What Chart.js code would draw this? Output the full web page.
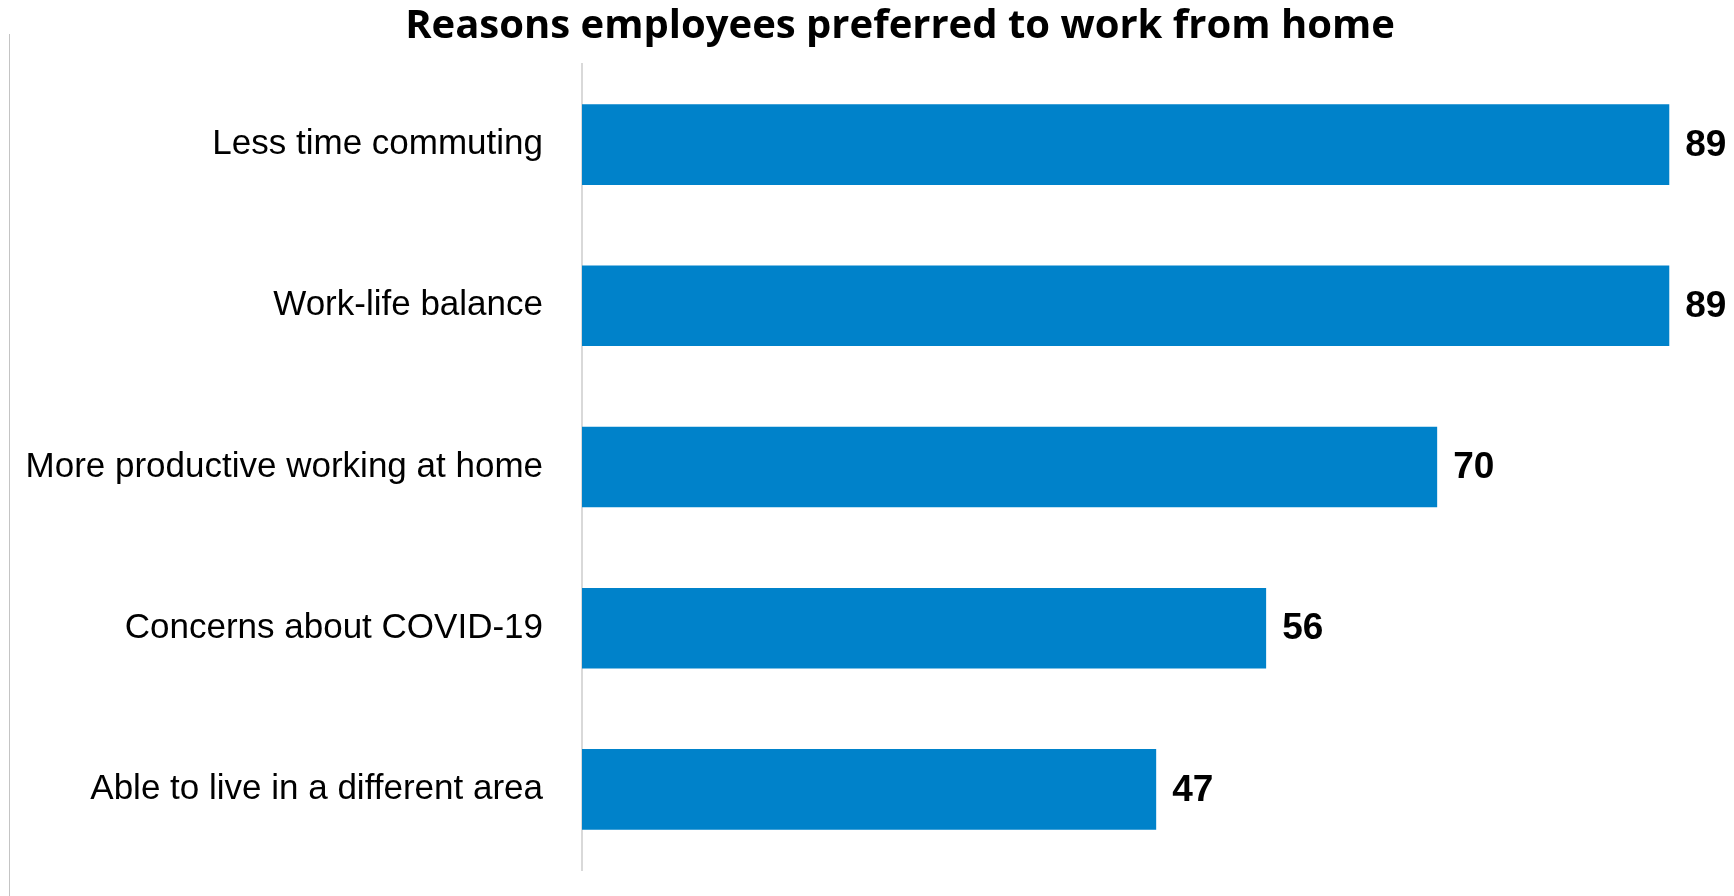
<!DOCTYPE html>
<html>
<head>
<meta charset="utf-8">
<title>Reasons employees preferred to work from home</title>
<script src="https://cdn.jsdelivr.net/npm/chart.js@4.4.1/dist/chart.umd.min.js"></script>
<style>
  html, body { margin: 0; padding: 0; background: #ffffff; overflow: hidden; }
  #wrap { position: relative; width: 1734px; height: 896px; overflow: hidden; }
  #edge { position: absolute; left: 9px; top: 34px; width: 1px; height: 862px; background: #c4c4c4; }
  canvas { position: absolute; left: 0; top: 0; }
</style>
</head>
<body>
<div id="wrap">
  <div id="edge"></div>
  <canvas id="chart" width="1800" height="896"></canvas>
</div>
<script>
// Survey reasons and share of employees (%) giving each one
const categories = [
  'Less time commuting',
  'Work-life balance',
  'More productive working at home',
  'Concerns about COVID-19',
  'Able to live in a different area'
];
const values = [89, 89, 70, 56, 47];
const chartTitle = 'Reasons employees preferred to work from home';

const barColor = '#0082ca';
const labelFont = "'Liberation Sans', Arial, sans-serif";

// Writes each bar's value just past the end of the bar
const valueLabels = {
  id: 'valueLabels',
  afterDatasetsDraw(chart) {
    const ctx = chart.ctx;
    const meta = chart.getDatasetMeta(0);
    ctx.save();
    ctx.font = 'bold 37px ' + labelFont;
    ctx.fillStyle = '#000000';
    ctx.textAlign = 'left';
    ctx.textBaseline = 'middle';
    meta.data.forEach((bar, i) => {
      ctx.fillText(String(values[i]), bar.x + 16, bar.y + 1);
    });
    ctx.restore();
  }
};

new Chart(document.getElementById('chart'), {
  type: 'bar',
  data: {
    labels: categories,
    datasets: [{
      data: values,
      backgroundColor: barColor,
      borderWidth: 0,
      categoryPercentage: 0.5,
      barPercentage: 1.0
    }]
  },
  options: {
    indexAxis: 'y',
    responsive: false,
    animation: false,
    devicePixelRatio: 1,
    layout: { padding: { left: 0, right: 0, top: 0, bottom: 26 } },
    plugins: {
      legend: { display: false },
      tooltip: { enabled: false },
      title: {
        display: true,
        text: chartTitle,
        color: '#000000',
        font: { family: "'Open Sans', sans-serif", size: 40, weight: 'bold', lineHeight: 1.2 },
        padding: { top: 3, bottom: 13 }
      }
    },
    scales: {
      x: {
        display: false,
        min: 0,
        max: 99.7
      },
      y: {
        afterFit(scale) {
          scale.width = 582;
          scale.paddingTop = 0;
          scale.paddingBottom = 0;
        },
        grid: { display: false, drawTicks: false },
        border: { display: true, color: '#d9d9d9', width: 2 },
        ticks: {
          color: '#000000',
          padding: 39,
          font: { family: labelFont, size: 35 }
        }
      }
    }
  },
  plugins: [valueLabels]
});
</script>
</body>
</html>
